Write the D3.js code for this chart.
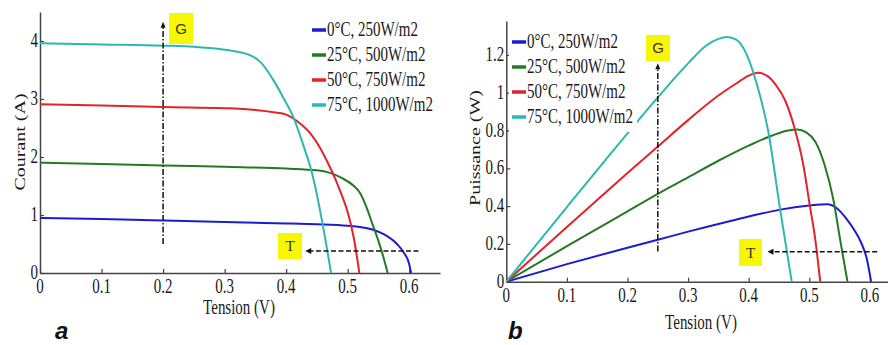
<!DOCTYPE html>
<html>
<head>
<meta charset="utf-8">
<script src="https://cdn.jsdelivr.net/npm/d3@7"></script>
<style>
  body { margin: 0; background: #fff; }
  svg { display: block; }
</style>
</head>
<body>
<script>
// series labels and colours
const seriesNames = ['0°C, 250W/m2', '25°C, 500W/m2', '50°C, 750W/m2', '75°C, 1000W/m2'];
const seriesColors = ['#1c1ccc', '#237a23', '#e2232b', '#2bb8b0'];

// I-V curves, [tension V, courant A]
const ivBlue = [[0,0.95],[0.1,0.93],[0.2,0.905],[0.3,0.88],[0.4,0.855],[0.45,0.84],[0.5,0.815],[0.52,0.795],[0.54,0.75],[0.56,0.66],[0.58,0.5],[0.59,0.37],[0.6,0.15],[0.603,0]];
const ivGreen = [[0,1.9],[0.1,1.88],[0.2,1.855],[0.3,1.83],[0.4,1.8],[0.45,1.77],[0.47,1.73],[0.49,1.64],[0.51,1.5],[0.52,1.38],[0.53,1.15],[0.54,0.85],[0.55,0.55],[0.56,0.2],[0.565,0]];
const ivRed = [[0,2.91],[0.1,2.89],[0.2,2.86],[0.3,2.84],[0.35,2.81],[0.38,2.77],[0.4,2.73],[0.42,2.6],[0.44,2.4],[0.455,2.16],[0.47,1.85],[0.48,1.62],[0.49,1.35],[0.5,1.05],[0.51,0.6],[0.519,0]];
const ivCyan = [[0,3.96],[0.1,3.94],[0.2,3.92],[0.25,3.9],[0.3,3.85],[0.34,3.76],[0.358,3.64],[0.379,3.33],[0.396,3.01],[0.412,2.68],[0.428,2.2],[0.44,1.8],[0.45,1.35],[0.46,0.8],[0.473,0]];

// P-V curves, [tension V, puissance W]
const pvBlue = [[0,0],[0.1,0.093],[0.2,0.18],[0.25,0.222],[0.3,0.265],[0.35,0.305],[0.4,0.345],[0.45,0.38],[0.5,0.403],[0.53,0.41],[0.545,0.39],[0.562,0.33],[0.575,0.27],[0.585,0.21],[0.595,0.12],[0.602,0]];
const pvGreen = [[0,0],[0.1,0.188],[0.2,0.372],[0.25,0.465],[0.3,0.552],[0.35,0.64],[0.4,0.72],[0.44,0.775],[0.465,0.8],[0.48,0.805],[0.495,0.79],[0.51,0.74],[0.525,0.62],[0.54,0.43],[0.551,0.22],[0.563,0]];
const pvRed = [[0,0],[0.1,0.29],[0.2,0.575],[0.25,0.715],[0.3,0.855],[0.35,0.985],[0.38,1.05],[0.4,1.09],[0.415,1.105],[0.43,1.09],[0.445,1.04],[0.46,0.96],[0.475,0.82],[0.49,0.62],[0.501,0.4],[0.51,0.22],[0.518,0]];
const pvCyan = [[0,0],[0.1,0.395],[0.2,0.785],[0.25,0.975],[0.3,1.155],[0.33,1.25],[0.35,1.285],[0.364,1.295],[0.38,1.28],[0.394,1.22],[0.413,1.05],[0.432,0.8],[0.452,0.38],[0.471,0]];

// ticks
const xTicks = [0, 0.1, 0.2, 0.3, 0.4, 0.5, 0.6];
const iTicks = [0, 1, 2, 3, 4];
const pTicks = [0, 0.2, 0.4, 0.6, 0.8, 1, 1.2];

// annotations: G arrow [V, from, to], T arrow [level, fromV, toV]
const gArrowI = [0.2, 0.5, 4.33];
const tArrowI = [0.38, 0.615, 0.431];
const gArrowP = [0.25, 0.16, 1.156];
const tArrowP = [0.159, 0.612, 0.431];

const svg = d3.select('body').append('svg')
  .attr('width', 888).attr('height', 345);

const serif = '"Liberation Serif", "Times New Roman", serif';

function label(g, x, y, s, anchor, rot) {
  return g.append('text')
    .attr('transform', 'translate(' + x + ',' + y + ') scale(0.75,1)' + (rot ? ' rotate(-90)' : ''))
    .attr('text-anchor', anchor || 'start')
    .attr('font-family', serif)
    .attr('font-size', 20)
    .attr('fill', '#1a1a1a')
    .text(s);
}

function drawPanel(opt) {
  let g = svg.append('g');
  let x = d3.scaleLinear().domain([0, 0.65]).range(opt.xr);
  let y = d3.scaleLinear().domain([0, opt.ymax]).range(opt.yr);

  // axes (inward ticks)
  g.append('g').attr('transform', 'translate(0,' + opt.yr[0] + ')')
    .call(d3.axisBottom(x).tickValues(xTicks).tickSizeInner(-4).tickSizeOuter(0).tickFormat(''));
  g.append('g').attr('transform', 'translate(' + opt.xr[0] + ',0)')
    .call(d3.axisLeft(y).tickValues(opt.yTicks).tickSizeInner(-4).tickSizeOuter(0).tickFormat(''));
  g.selectAll('.domain').attr('stroke', '#444').attr('stroke-width', 1.5);
  g.selectAll('.tick line').attr('stroke', '#444').attr('stroke-width', 1.2);

  xTicks.forEach(function(t) {
    label(g, x(t), opt.yr[0] + 20, d3.format('~g')(t), 'middle');
  });
  opt.yTicks.forEach(function(t) {
    label(g, opt.xr[0] - 2, y(t) + 6, d3.format('~g')(t), 'end');
  });
  label(g, opt.xLabel[0], opt.xLabel[1], 'Tension (V)', 'middle');
  label(g, opt.yLabel[0], opt.yLabel[1], opt.yText, 'middle', true);

  // curves
  let line = d3.line()
    .x(function(d) { return x(d[0]); })
    .y(function(d) { return y(d[1]); })
    .curve(d3.curveMonotoneX);
  opt.series.forEach(function(s, i) {
    g.append('path')
      .attr('d', line(s))
      .attr('fill', 'none')
      .attr('stroke', seriesColors[i])
      .attr('stroke-width', 2);
  });

  // legend with white background
  let lg = g.append('g');
  lg.append('rect')
    .attr('x', opt.legend[0] - 3).attr('y', opt.legend[1] - 14)
    .attr('width', opt.legendW).attr('height', 104)
    .attr('fill', '#fff');
  seriesNames.forEach(function(n, i) {
    let ly = opt.legend[1] + i * 25;
    lg.append('line')
      .attr('x1', opt.legend[0]).attr('x2', opt.legend[0] + 14)
      .attr('y1', ly).attr('y2', ly)
      .attr('stroke', seriesColors[i]).attr('stroke-width', 3.5);
    label(lg, opt.legend[0] + 15, ly + 6, n, 'start');
  });

  // G arrow (dash-dot, pointing up)
  let ga = opt.gArrow;
  let gx = x(ga[0]), gy0 = y(ga[1]), gy1 = y(ga[2]);
  g.append('line')
    .attr('x1', gx).attr('x2', gx).attr('y1', gy0).attr('y2', gy1 + 4)
    .attr('stroke', '#111').attr('stroke-width', 1.5)
    .attr('stroke-dasharray', '6,2,1.5,2');
  g.append('path')
    .attr('d', 'M' + (gx - 2.5) + ',' + (gy1 + 6) + 'L' + gx + ',' + gy1 + 'L' + (gx + 2.5) + ',' + (gy1 + 6) + 'Z')
    .attr('fill', '#111');

  // T arrow (dashed, pointing left)
  let ta = opt.tArrow;
  let ty = y(ta[0]), tx0 = x(ta[1]), tx1 = x(ta[2]);
  g.append('line')
    .attr('x1', tx0).attr('x2', tx1 + 4).attr('y1', ty).attr('y2', ty)
    .attr('stroke', '#111').attr('stroke-width', 1.5)
    .attr('stroke-dasharray', '5,2.5');
  g.append('path')
    .attr('d', 'M' + tx1 + ',' + ty + 'L' + (tx1 + 6) + ',' + (ty - 3) + 'L' + (tx1 + 6) + ',' + (ty + 3) + 'Z')
    .attr('fill', '#111');

  // yellow G / T boxes
  [['G', opt.gBox], ['T', opt.tBox]].forEach(function(b) {
    let bx = b[1];
    g.append('rect')
      .attr('x', bx[0]).attr('y', bx[1]).attr('width', bx[2]).attr('height', bx[3])
      .attr('fill', '#f7f700');
    g.append('text')
      .attr('x', bx[0] + bx[2] / 2).attr('y', bx[1] + bx[3] / 2 + 5)
      .attr('text-anchor', 'middle')
      .attr('font-family', b[0] == 'G' ? '"Liberation Sans", Arial, sans-serif' : serif)
      .attr('font-size', 15)
      .attr('fill', '#333')
      .text(b[0]);
  });

  // panel letter
  g.append('text')
    .attr('x', opt.letter[0]).attr('y', opt.letter[1])
    .attr('font-family', '"Liberation Sans", Arial, sans-serif')
    .attr('font-size', 24).attr('font-weight', 'bold').attr('font-style', 'italic')
    .attr('fill', '#111')
    .text(opt.letterText);
}

drawPanel({
  xr: [40, 440], yr: [273, 12], ymax: 4.5, yTicks: iTicks,
  yText: 'Courant (A)', xLabel: [239, 314], yLabel: [25, 142],
  series: [ivBlue, ivGreen, ivRed, ivCyan],
  legend: [312, 30], legendW: 126,
  gArrow: gArrowI, tArrow: tArrowI,
  gBox: [169, 13, 24, 31], tBox: [278, 233, 24, 26],
  letter: [55, 339], letterText: 'a'
});

drawPanel({
  xr: [506.3, 900.2], yr: [281.7, 20.9], ymax: 1.38, yTicks: pTicks,
  yText: 'Puissance (W)', xLabel: [701, 329], yLabel: [480, 148],
  series: [pvBlue, pvGreen, pvRed, pvCyan],
  legend: [512, 42], legendW: 128,
  gArrow: gArrowP, tArrow: tArrowP,
  gBox: [646, 35, 24, 26], tBox: [739, 239, 23, 27],
  letter: [508, 339], letterText: 'b'
});
</script>
</body>
</html>
